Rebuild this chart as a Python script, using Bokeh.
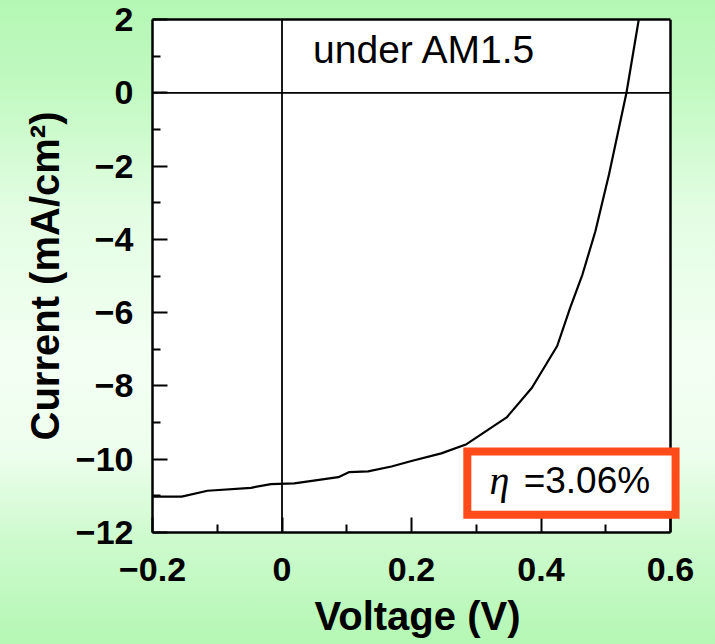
from bokeh.plotting import figure
from bokeh.models import FixedTicker, Span, Label, LinearAxis, BoxAnnotation, Range1d
from bokeh.embed import file_html
from bokeh.resources import INLINE

# ---- data ----
voltage = [-0.200, -0.155, -0.115, -0.048, -0.017, 0.019, 0.087, 0.104, 0.133, 0.169,
           0.200, 0.246, 0.285, 0.347, 0.386, 0.425, 0.445, 0.464, 0.484, 0.505, 0.532, 0.551]
current = [-11.02, -11.02, -10.86, -10.78, -10.68, -10.66, -10.49, -10.35, -10.33, -10.20,
           -10.05, -9.84, -9.59, -8.86, -8.05, -6.91, -5.87, -4.96, -3.78, -2.23, 0.0, 2.0]

x_min, x_max = -0.2, 0.6
y_min, y_max = -12, 2
x_ticks = [-0.2, 0.0, 0.2, 0.4, 0.6]
x_tick_labels = ["\u22120.2", "0", "0.2", "0.4", "0.6"]
x_minor = [-0.1, 0.1, 0.3, 0.5]
y_ticks = [2, 0, -2, -4, -6, -8, -10, -12]
y_tick_labels = ["2", "0", "\u22122", "\u22124", "\u22126", "\u22128", "\u221210", "\u221212"]
y_minor = [1, -1, -3, -5, -7, -9, -11]

x_title = "Voltage (V)"
y_title = "Current (mA/cm\u00b2)"
condition_text = "under AM1.5"
eta_symbol = "\u03b7"
eta_value = "=3.06%"

# the frame is 12 px wider than the drawn plotting area so the framed label may overhang it
frame_w, plot_w = 530, 518
x_end = x_min + (x_max - x_min) * frame_w / plot_w

p = figure(width=715, height=644, x_range=Range1d(x_min, x_end), y_range=Range1d(y_min, y_max),
           output_backend="svg", toolbar_location=None,
           min_border_left=152, min_border_right=715 - 152 - frame_w,
           min_border_top=19, min_border_bottom=112)

p.styles = {"background": "linear-gradient(to bottom, #b4f7b4 0%, #c2f9c2 14%, #e2fde2 32%, "
                          "#f3fff3 55%, #eefeee 70%, #cdfacd 84%, #b4f7b4 100%)"}
p.border_fill_color = None
p.background_fill_color = None
p.outline_line_color = None
p.grid.visible = False

bottom_axis = p.below[0]
left_axis = p.left[0]

# white plotting area
p.add_layout(BoxAnnotation(left=x_min, right=x_max, bottom=y_min, top=y_max,
                           fill_color="white", fill_alpha=1.0, line_color=None, level="underlay"))

top_axis = LinearAxis(major_tick_line_color=None, minor_tick_line_color=None,
                      major_label_text_font_size="0px", bounds=(x_min, x_max),
                      axis_line_color="black", axis_line_width=2.5)
top_axis.ticker = FixedTicker(ticks=[])
p.add_layout(top_axis, "above")

tick_font = "Liberation Sans"
for ax, ticks, labels, minor, bnds in ((bottom_axis, x_ticks, x_tick_labels, x_minor, (x_min, x_max)),
                                       (left_axis, y_ticks, y_tick_labels, y_minor, (y_min, y_max))):
    ax.ticker = FixedTicker(ticks=ticks, minor_ticks=minor)
    ax.major_label_overrides = dict(zip(ticks, labels))
    ax.bounds = bnds
    ax.axis_line_color = "black"
    ax.axis_line_width = 2.5
    ax.major_tick_in = 15
    ax.major_tick_out = 0
    ax.minor_tick_in = 8
    ax.minor_tick_out = 0
    ax.major_tick_line_width = 2
    ax.minor_tick_line_width = 2
    ax.major_tick_line_color = "black"
    ax.minor_tick_line_color = "black"
    ax.major_label_text_font = tick_font
    ax.major_label_text_font_style = "bold"
    ax.major_label_text_font_size = "34px"
    ax.major_label_text_color = "black"
    ax.axis_label_text_font = tick_font
    ax.axis_label_text_font_style = "bold"
    ax.axis_label_text_font_size = "40px"
    ax.axis_label_text_color = "black"

bottom_axis.axis_label = x_title
left_axis.axis_label = y_title
bottom_axis.major_label_standoff = 25
left_axis.major_label_standoff = 19
bottom_axis.axis_label_standoff = 10
left_axis.axis_label_standoff = 6

# right border of the plotting area
p.add_layout(Span(location=x_max, dimension="height", line_color="black", line_width=2.5))
# zero lines
p.add_layout(Span(location=0, dimension="height", line_color="black", line_width=1.8))
p.line([x_min, x_max], [0, 0], line_color="black", line_width=1.8)

p.line(voltage, current, line_color="black", line_width=2.2)

p.add_layout(Label(x=0.048, y=1.17, text=condition_text, text_font="Liberation Sans",
                   text_font_size="39px", text_color="black", text_baseline="alphabetic"))

# framed box for the efficiency
p.add_layout(Label(x=0.2862, y=-9.79, text=" ", text_font_size="1px",
                   text_align="left", text_baseline="top",
                   background_fill_color="white", background_fill_alpha=1.0,
                   border_line_color="#ff4a1a", border_line_width=8, border_line_alpha=1.0,
                   border_line_join="miter",
                   padding=dict(left=104, right=104, top=31, bottom=31)))
p.add_layout(Label(x=0.3204, y=-10.57, text=eta_symbol, text_font="Liberation Serif",
                   text_font_style="italic", text_font_size="40px", text_color="black",
                   text_baseline="alphabetic"))
p.add_layout(Label(x=0.3732, y=-10.57, text=eta_value, text_font="Liberation Sans",
                   text_font_size="37px", text_color="black", text_baseline="alphabetic"))

open("out.html", "w").write(file_html(p, INLINE))
